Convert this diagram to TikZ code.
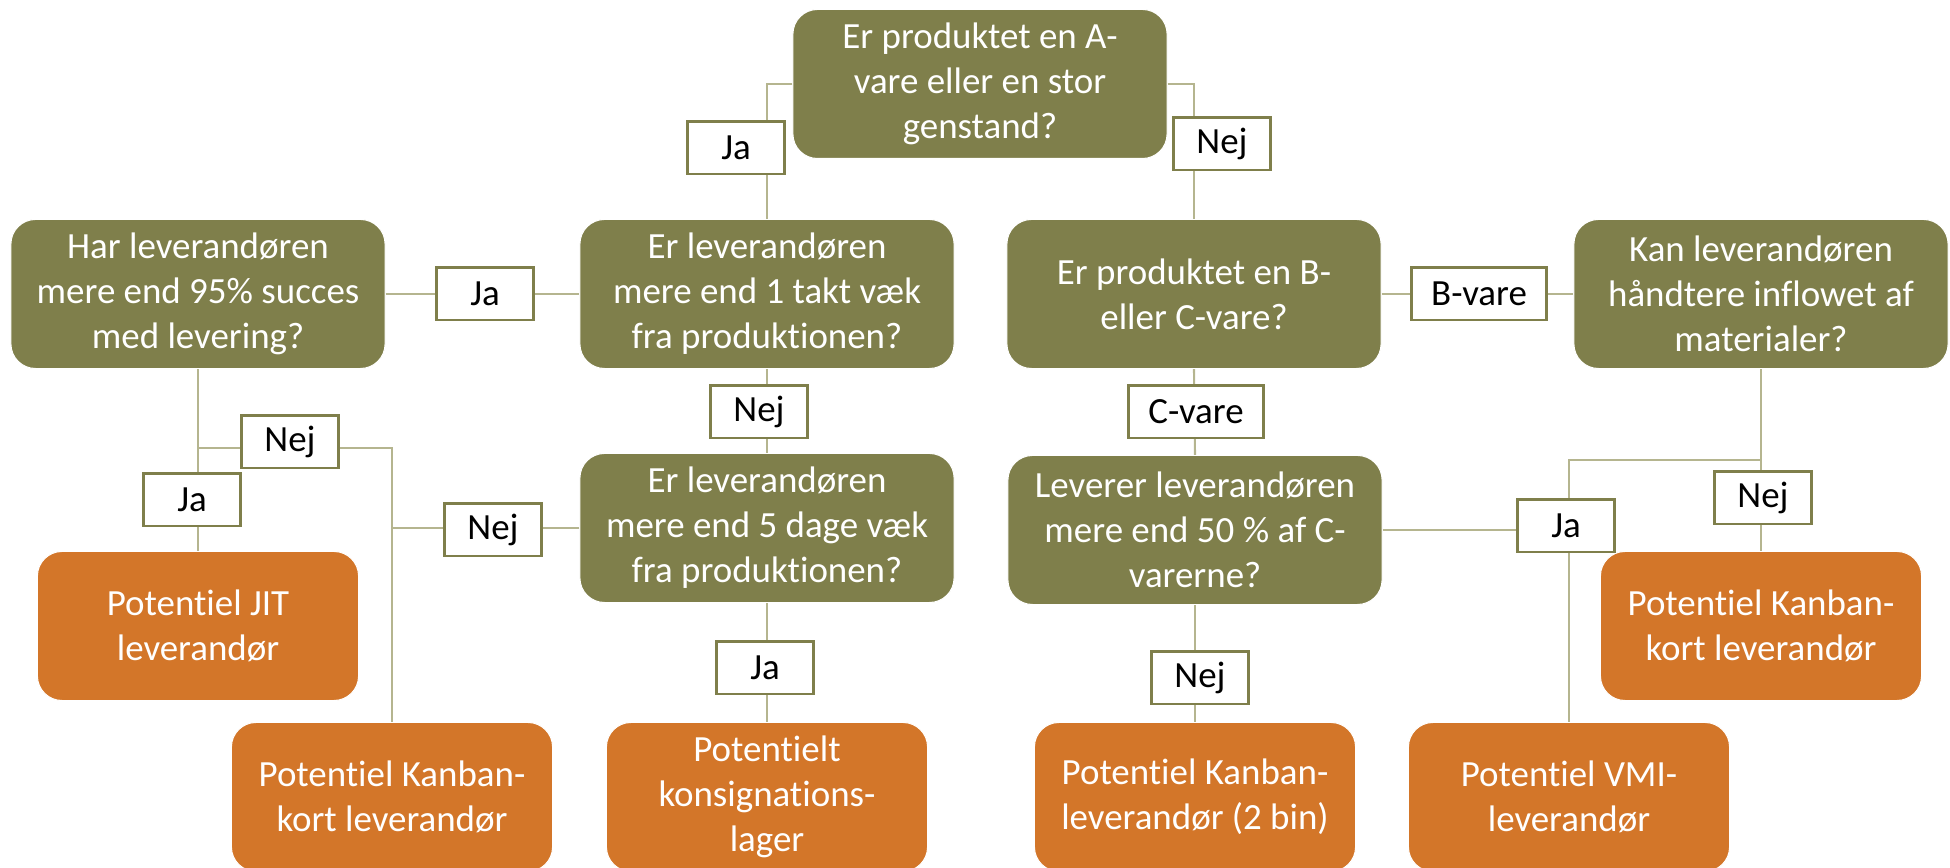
\documentclass[tikz,border=0pt]{standalone}
\usepackage{fontspec}
\setmainfont{Carlito}[Ligatures={NoCommon},RawFeature={-liga;-clig;-dlig}]
\newcommand{\myti}{t\kern0pt i}
\definecolor{olive}{RGB}{127,127,75}
\definecolor{orng}{RGB}{211,118,41}
\definecolor{lineol}{RGB}{181,181,143}
\definecolor{labbd}{RGB}{127,127,75}
\begin{document}
\begin{tikzpicture}[x=0.01cm,y=-0.01cm,
  txt/.style={font=\fontsize{10.5pt}{12.75pt}\selectfont, align=center},
  qbox/.style={txt, rectangle, rounded corners=7pt, fill=olive, draw=white, line width=0.3pt, text=white, minimum width=3.74cm, minimum height=1.49cm, inner sep=0pt},
  abox/.style={txt, rectangle, rounded corners=7pt, fill=orng, draw=white, line width=0.3pt, text=white, minimum width=3.21cm, minimum height=1.49cm, inner sep=0pt},
  lab/.style={txt, rectangle, fill=white, draw=labbd, line width=0.85pt, text=black, minimum width=0.96cm, minimum height=0.52cm, inner sep=0pt},
  wlab/.style={lab, minimum width=1.34cm},
  conn/.style={draw=lineol, line width=0.6pt}]
\useasboundingbox (0,0) rectangle (1950,868);
% question boxes
\node[qbox] (top) at (980,84) {Er produktet en A-\\vare eller en stor\\genstand?};
\node[qbox] (har) at (198,294) {Har leverandøren\\mere end 95\% succes\\med levering?};
\node[qbox] (onetakt) at (767,294) {Er leverandøren\\mere end 1 takt væk\\fra produk\myti onen?};
\node[qbox] (bc) at (1194,294) {Er produktet en B-\\eller C-vare?};
\node[qbox] (kan) at (1761,294) {Kan leverandøren\\håndtere inflowet af\\materialer?};
\node[qbox] (fivedage) at (767,528) {Er leverandøren\\mere end 5 dage væk\\fra produk\myti onen?};
\node[qbox] (lev) at (1195,530) {Leverer leverandøren\\mere end 50 \% af C-\\varerne?};
% answer boxes
\node[abox] (jit) at (198,626) {Poten\myti el JIT\\leverandør};
\node[abox] (kanL) at (392,797) {Poten\myti el Kanban-\\kort leverandør};
\node[abox] (kons) at (767,797) {Poten\myti elt\\konsigna\myti ons-\\lager};
\node[abox] (bin) at (1195,797) {Poten\myti el Kanban-\\leverandør (2 bin)};
\node[abox] (vmi) at (1569,797) {Poten\myti el VMI-\\leverandør};
\node[abox] (kanR) at (1761,626) {Poten\myti el Kanban-\\kort leverandør};
% connectors
\coordinate (hb) at (198,448);
\coordinate (kb) at (1761,460);
\draw[conn] (top.west) -| (onetakt.north);
\draw[conn] (top.east) -| (bc.north);
\draw[conn] (har.east) -- (onetakt.west);
\draw[conn] (onetakt.south) -- (fivedage.north);
\draw[conn] (har.south) -- (jit.north);
\draw[conn] (hb) -| (kanL.north);
\draw[conn] (fivedage.west) -- (kanL.north |- fivedage.west);
\draw[conn] (fivedage.south) -- (kons.north);
\draw[conn] (bc.east) -- (kan.west);
\draw[conn] (bc.south) -- (lev.north);
\draw[conn] (lev.east) -- (vmi.north |- lev.east);
\draw[conn] (kan.south) -- (kanR.north);
\draw[conn] (kb) -| (vmi.north);
\draw[conn] (lev.south) -- (bin.north);
% labels
\node[lab] (l1) at (736,148) {Ja};
\node[lab] (l2) at (1222,144) {Nej};
\node[lab] (l3) at (485,294) {Ja};
\node[lab] (l4) at (759,412) {Nej};
\node[lab] (l5) at (290,442) {Nej};
\node[lab] (l6) at (192,500) {Ja};
\node[lab] (l7) at (493,530) {Nej};
\node[lab] (l8) at (765,668) {Ja};
\node[wlab] (l9) at (1479,294) {B-vare};
\node[wlab] (l10) at (1196,412) {C-vare};
\node[lab] (l11) at (1566,526) {Ja};
\node[lab] (l12) at (1763,498) {Nej};
\node[lab] (l13) at (1200,678) {Nej};
\end{tikzpicture}
\end{document}
